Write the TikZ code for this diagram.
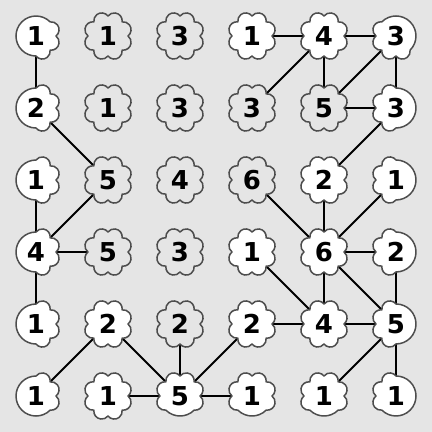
\documentclass[tikz,border=0pt]{standalone}
\usepackage{fontspec}
\setsansfont{DejaVu Sans}
\usepackage{tikz}
\usetikzlibrary{backgrounds}
\definecolor{board}{HTML}{E5E5E5}
\definecolor{rim}{HTML}{4D4D4D}
\tikzset{
  font=\sffamily\bfseries\fontsize{26}{26}\selectfont,
  outline/.style={draw=rim, line width=1.5pt, line join=round},
  cell/.style={circle, inner sep=0pt, text=black},
  link/.style={draw=black, line width=2pt}
}

\begin{document}
\begin{tikzpicture}[x=72pt, y=72pt]
  \useasboundingbox (0,0) rectangle (6,6);

  % col/row/number/fill/smooth arc from/to (0/0 = all puffs)
  \foreach \c/\r/\n/\f/\a/\b in {
    0/0/1/white/45/270, 1/0/1/board/0/0, 2/0/3/board/0/0, 3/0/1/white/0/0, 4/0/4/white/0/0, 5/0/3/white/-45/135,
    0/1/2/white/90/270, 1/1/1/board/0/0, 2/1/3/board/0/0, 3/1/3/board/0/0, 4/1/5/board/0/0, 5/1/3/white/-90/90,
    0/2/1/white/90/270, 1/2/5/board/0/0, 2/2/4/board/0/0, 3/2/6/board/0/0, 4/2/2/white/0/0, 5/2/1/white/-90/90,
    0/3/4/white/90/270, 1/3/5/board/0/0, 2/3/3/board/0/0, 3/3/1/white/0/0, 4/3/6/white/0/0, 5/3/2/white/-90/90,
    0/4/1/white/90/270, 1/4/2/white/0/0, 2/4/2/board/0/0, 3/4/2/white/0/0, 4/4/4/white/0/0, 5/4/5/white/-90/90,
    0/5/1/white/90/315, 1/5/1/white/0/0, 2/5/5/white/-135/-45, 3/5/1/white/-135/-45, 4/5/1/white/-135/-45, 5/5/1/white/-135/90} {
    \coordinate (p\c\r) at (\c+.5,5.5-\r);
    \pgfmathtruncatemacro\m{(\a+360-\b)/45}
    \ifnum\a=\b
      \draw[outline, fill=\f] (p\c\r) ++(0:20pt)
        foreach \k in {1,...,8} { arc[start angle=45*\k-97.5, delta angle=150, radius=7.92pt] } -- cycle;
    \else
      \draw[outline, fill=\f] (p\c\r) ++(\b:20pt)
        foreach \k in {1,...,\m} { arc[start angle=\b+45*\k-97.5, delta angle=150, radius=7.92pt] }
        arc[start angle=\a, end angle=\b, radius=20pt] -- cycle;
    \fi
    \node[cell] (n\c\r) at (p\c\r) {\n};
  }

  \begin{scope}[on background layer]
    \fill[board] (0,0) rectangle (6,6);
    \foreach \u/\v in {00/01, 01/12, 30/40, 40/50, 40/31, 40/41, 50/41, 50/51, 41/51, 51/42,
      02/03, 12/03, 03/13, 03/04, 42/43, 52/43, 32/43, 43/53, 33/44, 43/44, 43/54, 53/54,
      34/44, 44/54, 34/25, 14/05, 14/25, 24/25, 15/25, 25/35, 54/45, 54/55} {
      \draw[link] (n\u.center) -- (n\v.center);
    }
  \end{scope}
\end{tikzpicture}
\end{document}
